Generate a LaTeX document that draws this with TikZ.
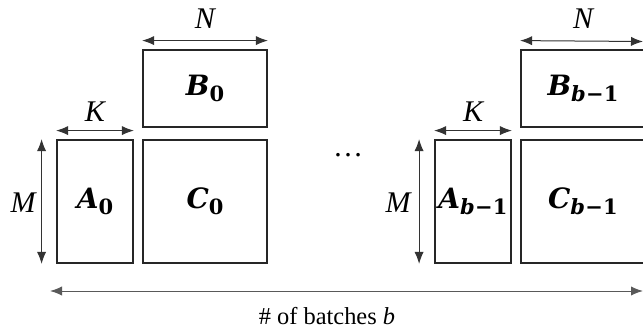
\documentclass[tikz,border=0pt]{standalone}
\usepackage{fontspec}
\setmainfont{Liberation Serif}
\newfontfamily\mfont{DejaVu Serif}
\usetikzlibrary{arrows.meta,calc}
\newcommand{\mtx}[2]{{\mfont\fontsize{14}{16}\selectfont\bfseries\itshape #1}\raisebox{-0.3em}{\mfont\fontsize{10.5}{12}\selectfont\bfseries #2}}
\newcommand{\bmo}{{\itshape b}\kern0.01em\char"2212\kern0.01em 1}
\tikzset{
  box/.style={draw=black!85, line width=0.9pt, inner sep=0pt},
  dim/.style={draw=black!80, line width=0.5pt, {Latex[length=6pt,width=4.6pt]}-{Latex[length=6pt,width=4.6pt]}},
  lab/.style={font=\fontsize{15}{17}\selectfont\itshape, inner sep=0pt},
}
\begin{document}
\begin{tikzpicture}[x=0.5pt,y=-0.5pt]
\path[use as bounding box] (0,0) rectangle (643,332);
% batch 0
\node[box, minimum width=38pt, minimum height=61.5pt] (A0) at (95,201.5) {\mtx{A}{0}};
\node[box, minimum width=62pt, minimum height=38.5pt] (B0) at (205,88.5) {\mtx{B}{0}};
\node[box, minimum width=62pt, minimum height=61.5pt] (C0) at (205,201.5) {\mtx{C}{0}};
\draw[dim] ($(B0.north west)+(0,-8.5)$) -- ($(B0.north east)+(0,-8.5)$);
\node[lab] (N0) at (205,19) {N};
\draw[dim] ($(A0.north west)+(0,-8.5)$) -- ($(A0.north east)+(0,-8.5)$);
\node[lab] (K0) at (95,112) {K};
\draw[dim] ($(A0.north west)+(-14.5,0)$) -- ($(A0.south west)+(-14.5,0)$);
\node[lab] (M0) at (23,203) {M};
% dots
\node[font=\fontsize{15}{17}\selectfont, inner sep=0pt] (dots) at (348,155) {\ldots};
% batch b-1
\node[box, minimum width=38pt, minimum height=61.5pt] (A1) at (473,201.5) {\mtx{A}{\bmo}};
\node[box, minimum width=62pt, minimum height=38.5pt] (B1) at (583,88.5) {\mtx{B}{\bmo}};
\node[box, minimum width=62pt, minimum height=61.5pt] (C1) at (583,201.5) {\mtx{C}{\bmo}};
\coordinate (Nend) at (643,41.5);
\draw[dim] ($(B1.north west)+(0,-8.5)$) -- (Nend);
\node[lab] (N1) at (583,19) {N};
\draw[dim] ($(A1.north west)+(0,-8.5)$) -- ($(A1.north east)+(0,-8.5)$);
\node[lab] (K1) at (473,112) {K};
\draw[dim] ($(A1.north west)+(-15,0)$) -- ($(A1.south west)+(-15,0)$);
\node[lab] (M1) at (398,203) {M};
% batches
\coordinate (bl) at (50,291);
\coordinate (br) at (643,291);
\draw[dim, draw=black!65] (bl) -- (br);
\node[font=\fontsize{12.2}{14}\selectfont, inner sep=0pt] (lbl) at (327,316) {\# of batches \textit{b}};
\end{tikzpicture}
\end{document}
